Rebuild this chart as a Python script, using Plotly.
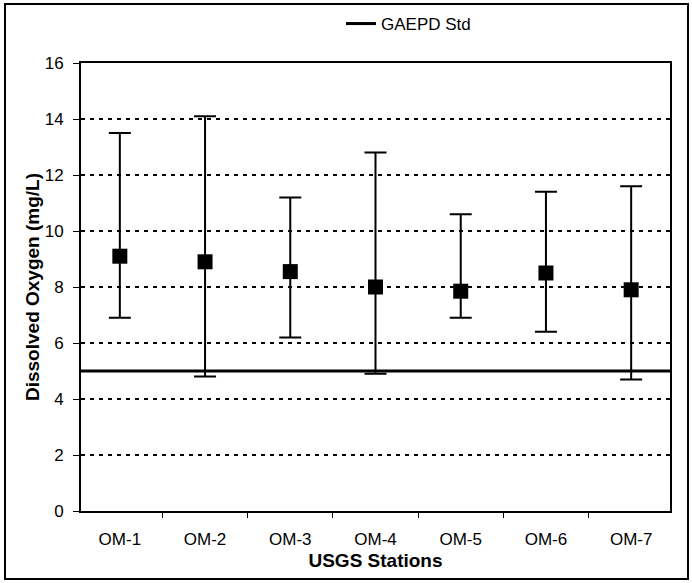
import plotly.graph_objects as go

# Dissolved oxygen summary by USGS station
stations = ["OM-1", "OM-2", "OM-3", "OM-4", "OM-5", "OM-6", "OM-7"]
do_mean = [9.1, 8.9, 8.55, 8.0, 7.85, 8.5, 7.9]
do_max = [13.5, 14.1, 11.2, 12.8, 10.6, 11.4, 11.6]
do_min = [6.9, 4.8, 6.2, 4.9, 6.9, 6.4, 4.7]
gaepd_std = 5.0
y_ticks = [0, 2, 4, 6, 8, 10, 12, 14, 16]

FONT = "Arial, Liberation Sans, sans-serif"
W, H = 692, 583
L, R, T, B = 81, 22, 63, 72

err_up = [hi - m for hi, m in zip(do_max, do_mean)]
err_dn = [m - lo for lo, m in zip(do_min, do_mean)]

fig = go.Figure()

# legend entry for the standard line
fig.add_trace(go.Scatter(
    x=[None], y=[None], mode="lines", name="GAEPD Std",
    line=dict(color="black", width=3), showlegend=True,
))

fig.add_trace(go.Scatter(
    x=stations, y=do_mean, mode="markers", showlegend=False,
    marker=dict(symbol="square", size=15, color="black"),
    error_y=dict(type="data", symmetric=False, array=err_up, arrayminus=err_dn,
                 color="black", thickness=2, width=11),
))

# standard line across the full plot width
fig.add_shape(type="line", xref="x domain", yref="y", x0=0, x1=1,
              y0=gaepd_std, y1=gaepd_std, line=dict(color="black", width=3),
              layer="above")

# outer frame around the whole chart
pw = W - L - R
ph = H - T - B
def px_x(p):
    return (p - L) / pw
def px_y(p):
    return (H - B - p) / ph
fig.add_shape(type="rect", xref="paper", yref="paper",
              x0=px_x(5), x1=px_x(688), y0=px_y(4), y1=px_y(579),
              line=dict(color="black", width=2), fillcolor="rgba(0,0,0,0)")

fig.update_layout(
    width=W, height=H,
    margin=dict(l=L, r=R, t=T, b=B, autoexpand=False),
    paper_bgcolor="white", plot_bgcolor="white",
    font=dict(family=FONT, size=17, color="black"),
    legend=dict(orientation="h", x=px_x(341), xanchor="left",
                y=px_y(6), yanchor="top",
                font=dict(size=17), itemwidth=30,
                bgcolor="rgba(0,0,0,0)"),
    xaxis=dict(
        type="category", categoryorder="array", categoryarray=stations,
        tickson="boundaries", ticks="outside", ticklen=5, tickcolor="black",
        showline=True, linecolor="black", linewidth=2, mirror=True,
        showgrid=False, tickfont=dict(size=17), ticklabelstandoff=12,
        title=dict(text="<b>USGS Stations</b>", font=dict(size=19), standoff=5),
    ),
    yaxis=dict(
        range=[0, 16], tickvals=y_ticks, ticks="outside", ticklen=6,
        tickcolor="black",
        showline=True, linecolor="black", linewidth=2, mirror=True,
        showgrid=True, gridcolor="black", gridwidth=2, griddash="4px,5px",
        zeroline=False, tickfont=dict(size=17), ticklabelstandoff=6,
        title=dict(text="<b>Dissolved Oxygen (mg/L)</b>", font=dict(size=19), standoff=0),
    ),
)

fig.write_html("out.html")
